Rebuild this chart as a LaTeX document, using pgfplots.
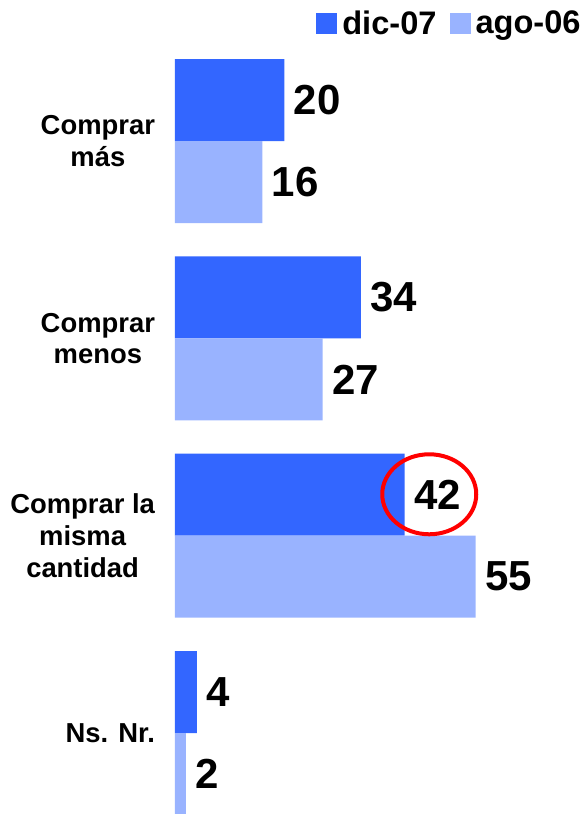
\documentclass[border=0pt]{standalone}
\usepackage{fontspec}
\setmainfont{Liberation Sans}
\usepackage{pgfplots}
\pgfplotsset{compat=1.18}
\definecolor{darkb}{HTML}{3366FF}
\definecolor{lightb}{HTML}{99B3FF}
\begin{document}
\begin{tikzpicture}
\path[use as bounding box] (0,0) rectangle (292pt,407pt);
\begin{axis}[
  scale only axis,
  width=204.5pt, height=407pt,
  at={(87.5pt,0pt)}, anchor=south west,
  xmin=0, xmax=74.8,
  ymin=-0.7145, ymax=3.41,
  y dir=reverse,
  axis line style={draw=none},
  major tick length=0pt,
  xtick=\empty,
  clip=false,
  xbar,
  bar width=41pt,
  ytick={0,1,2,3},
  yticklabels={{Comprar\\más},{Comprar\\menos},{Comprar la\\misma\\cantidad},{Ns. Nr.}},
  yticklabel style={align=center, font=\bfseries\fontsize{13.7}{15.8}\selectfont, xshift=-6.5pt},
  /pgf/number format/assume math mode=true,
  nodes near coords,
  nodes near coords style={anchor=west, inner sep=0pt, xshift=4.5pt, font=\bfseries\fontsize{21}{21}\selectfont, text=black},
  legend style={at={(1,1)}, anchor=north east, draw=none, fill=none, legend columns=2,
    font=\bfseries\fontsize{16.3}{16.3}\selectfont, inner sep=0pt, yshift=-3pt, xshift=1pt,
    /tikz/every even column/.append style={column sep=4pt},
    /tikz/every odd column/.append style={column sep=0pt}},
  legend cell align=left,
  legend image code/.code={\fill[#1] (0pt,-5.25pt) rectangle (10.5pt,5.25pt);},
  legend style={nodes={inner xsep=2.5pt}},
]
\addplot[fill=darkb, draw=none, bar shift=20.5pt] coordinates {(20,0) (34,1) (42,2) (4,3)};
\addplot[fill=lightb, draw=none, bar shift=-20.5pt] coordinates {(16,0) (27,1) (55,2) (2,3)};
\legend{dic-07, ago-06}
\draw[red, line width=2pt] (axis cs:46.5,1.79) ellipse [x radius=23.5pt, y radius=20pt];
\end{axis}
\end{tikzpicture}
\end{document}
